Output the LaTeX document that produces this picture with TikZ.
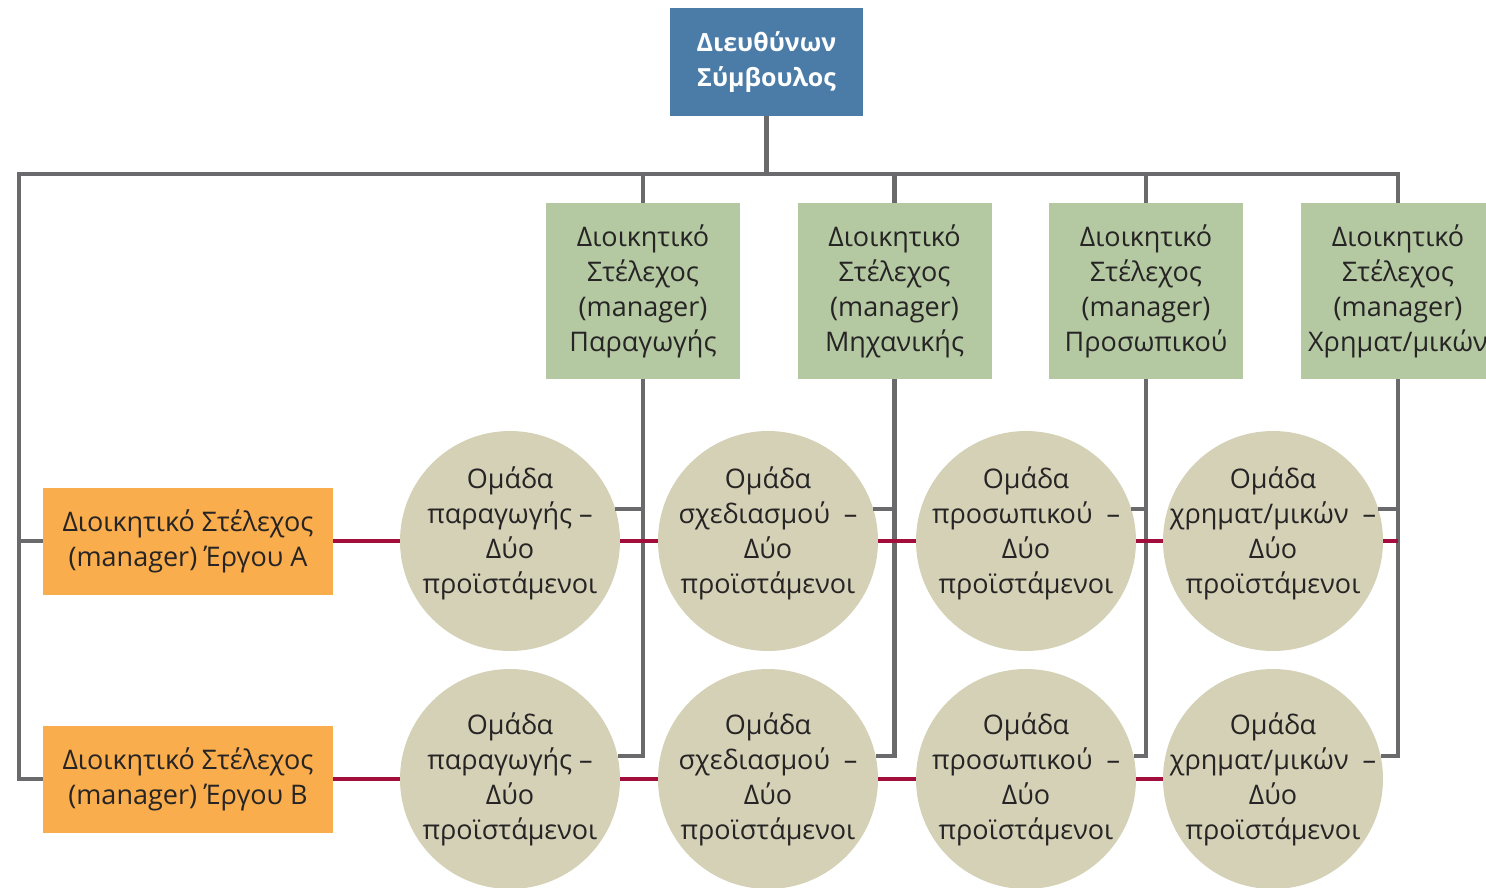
\documentclass[tikz,border=0pt]{standalone}
\usepackage{fontspec}
\setmainfont{Open Sans}
\usepackage{xcolor}
\usepackage{tikz}
\usetikzlibrary{positioning,calc}

\definecolor{ceoblue}{HTML}{4B7CA8}
\definecolor{mgrgreen}{HTML}{B4C8A2}
\definecolor{projorange}{HTML}{F9AD4C}
\definecolor{teambeige}{HTML}{D4D1B6}
\definecolor{linegray}{HTML}{6A6A6C}
\definecolor{linered}{HTML}{A20D3C}
\definecolor{txtdark}{HTML}{262424}

\tikzset{
  ceo/.style={rectangle, fill=ceoblue, text=white, font=\fontsize{25}{35}\selectfont\bfseries,
    minimum width=193, minimum height=108, align=center, inner sep=0pt},
  mgr/.style={rectangle, fill=mgrgreen, text=txtdark,
    minimum width=194, minimum height=176, align=center, inner sep=0pt},
  proj/.style={rectangle, fill=projorange, text=txtdark,
    minimum width=290, minimum height=107, align=center, inner sep=0pt},
  team/.style={circle, fill=teambeige, text=txtdark,
    minimum size=220, align=center, inner sep=-40pt},
  teamA/.style={team, text depth=22pt},
  orgline/.style={draw=linegray, line width=4.5pt},
  projline/.style={draw=linered, line width=4.5pt}
}

\begin{document}
\begin{tikzpicture}[x=1pt, y=-1pt, font=\fontsize{27}{35}\selectfont, line join=miter]
				\useasboundingbox (0,0) rectangle (1486,887);
				\clip (0,0) rectangle (1486,887);
				
				% ---- boxes on top ----
				\node[ceo] (ceo) at (766.5,62) {Διευθύνων\\Σύμβουλος};
				\node[mgr] (prod) at (643,291)  {Διοικητικό\\Στέλεχος\\(manager)\\Παραγωγής};
				\node[mgr] (eng)  at (894.5,291) {Διοικητικό\\Στέλεχος\\(manager)\\Μηχανικής};
				\node[mgr] (pers) at (1146,291) {Διοικητικό\\Στέλεχος\\(manager)\\Προσωπικού};
				\node[mgr] (fin)  at (1398,291) {Διοικητικό\\Στέλεχος\\(manager)\\Χρηματ/μικών};
				
				% ---- project managers ----
				\node[proj] (projA) at (188,541) {Διοικητικό Στέλεχος\\(manager) Έργου Α};
				\node[proj] (projB) at (188,779) {Διοικητικό Στέλεχος\\(manager) Έργου Β};
				
				% ---- teams, row A and row B ----
				\node[teamA] (tpA) at (510,541)  {Ομάδα\\παραγωγής –\\Δύο\\προϊστάμενοι};
				\node[teamA] (tdA) at (768,541)  {Ομάδα\\σχεδιασμού \ –\\Δύο\\προϊστάμενοι};
				\node[teamA] (tsA) at (1026,541) {Ομάδα\\προσωπικού \ –\\Δύο\\προϊστάμενοι};
				\node[teamA] (tfA) at (1273,541) {Ομάδα\\χρηματ/μικών \ –\\Δύο\\προϊστάμενοι};
				\node[team] (tpB) at (510,779)  {Ομάδα\\παραγωγής –\\Δύο\\προϊστάμενοι};
				\node[team] (tdB) at (768,779)  {Ομάδα\\σχεδιασμού \ –\\Δύο\\προϊστάμενοι};
				\node[team] (tsB) at (1026,779) {Ομάδα\\προσωπικού \ –\\Δύο\\προϊστάμενοι};
				\node[team] (tfB) at (1273,779) {Ομάδα\\χρηματ/μικών \ –\\Δύο\\προϊστάμενοι};
				
				% ---- gray reporting lines ----
				\coordinate (busL) at (19,174);
				\coordinate (busR) at (1398,174);
				\draw[orgline] (projB.west) -| (busL) -- (busR) -- (fin.north);
				\draw[orgline] (projA.west) -- (projA.west -| busL);
				\draw[orgline] (ceo.south) -- (ceo.south |- busL);
				\draw[orgline] (prod.north) -- (prod.north |- busL);
				\draw[orgline] (eng.north) -- (eng.north |- busL);
				\draw[orgline] (pers.north) -- (pers.north |- busL);
				
				\draw[orgline] (prod.south) |- (tpB.12);
				\draw[orgline] (eng.south)  |- (tdB.12);
				\draw[orgline] (pers.south) |- (tsB.12);
				\draw[orgline] (fin.south)  |- (tfB.12);
				\draw[orgline] (tpA.17) -- (tpA.17 -| prod.south);
				\draw[orgline] (tdA.17) -- (tdA.17 -| eng.south);
				\draw[orgline] (tsA.17) -- (tsA.17 -| pers.south);
				\draw[orgline] (tfA.17) -- (tfA.17 -| fin.south);
				
				% ---- red project lines ----
				\draw[projline] (projA.east) -- (tpA.west);
				\draw[projline] (tpA.east) -- (tdA.west);
				\draw[projline] (tdA.east) -- (tsA.west);
				\draw[projline] (tsA.east) -- (tfA.west);
				\draw[projline] (tfA.east) -- (tfA.east -| fin.south);
				\draw[projline] (projB.east) -- (tpB.west);
				\draw[projline] (tpB.east) -- (tdB.west);
				\draw[projline] (tdB.east) -- (tsB.west);
				\draw[projline] (tsB.east) -- (tfB.west);
			\end{tikzpicture}
\end{document}
